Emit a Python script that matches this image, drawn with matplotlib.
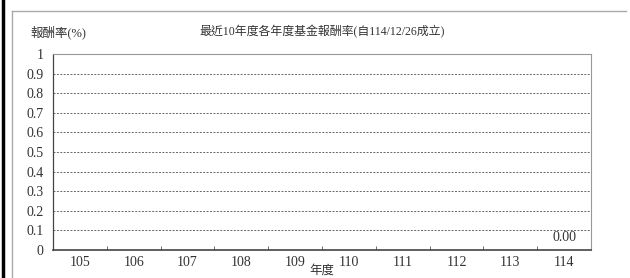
import matplotlib.pyplot as plt
from matplotlib.lines import Line2D

# data
years = ['105', '106', '107', '108', '109', '110', '111', '112', '113', '114']
returns = [None, None, None, None, None, None, None, None, None, 0.00]
y_ticks = [0, 0.1, 0.2, 0.3, 0.4, 0.5, 0.6, 0.7, 0.8, 0.9, 1]
y_tick_labels = ['0', '0.1', '0.2', '0.3', '0.4', '0.5', '0.6', '0.7', '0.8', '0.9', '1']

fonts = ['Liberation Serif', 'Noto Sans CJK TC']
plt.rcParams['font.family'] = fonts

fig = plt.figure(figsize=(6.3, 2.78), dpi=100)
W, H = 630, 278
ax = fig.add_axes([53 / W, 1 - 250 / H, (591 - 53) / W, (250 - 54) / H])

x = list(range(len(years)))
for xi, v in zip(x, returns):
    if v is None:
        continue
    ax.bar(xi, v, width=0.6, color='#4a6fa5')
    ax.annotate(f'{v:.2f}', (xi, v), xytext=(0, 4), textcoords='offset points',
                ha='center', va='bottom', fontsize=10, color='#333333')

ax.set_xlim(-0.5, len(years) - 0.5)
ax.set_ylim(0, 1)
ax.set_yticks(y_ticks)
ax.set_yticklabels(y_tick_labels)
ax.set_xticks(x)
ax.set_xticklabels(years)
ax.set_xticks([i + 0.5 for i in x[:-1]], minor=True)
ax.tick_params(axis='x', which='major', length=0, pad=4, labelsize=10, colors='#333333')
ax.tick_params(axis='x', which='minor', length=3, direction='in', color='#555555')
ax.tick_params(axis='y', length=0, pad=7, labelsize=10, colors='#333333')

for t in y_ticks[1:-1]:
    ax.axhline(t, color='#666666', linestyle=(0, (2, 1.5)), linewidth=0.7)

for side in ['top', 'right']:
    ax.spines[side].set_color('#999999')
    ax.spines[side].set_linewidth(0.8)
ax.spines['left'].set_color('#444444')
ax.spines['bottom'].set_color('#444444')
ax.spines['left'].set_linewidth(0.9)
ax.spines['bottom'].set_linewidth(1.2)

fig.text(30 / W, 1 - 32 / H, '報酬率(%)', fontsize=9, va='center', ha='left', color='#333333')
fig.text(322 / W, 1 - 32 / H, '最近10年度各年度基金報酬率(自114/12/26成立)', fontsize=8.6,
         va='center', ha='center', color='#333333')
fig.text(322 / W, 1 - 271 / H, '年度', fontsize=9, va='center', ha='center', color='#333333')

# page frame
fig.add_artist(Line2D([3 / W, 3 / W], [0, 1], color='black', linewidth=2.5))
fig.add_artist(Line2D([12 / W, 626 / W], [1 - 10.5 / H, 1 - 10.5 / H], color='#aaaaaa', linewidth=1))
fig.add_artist(Line2D([12 / W, 12 / W], [0, 1 - 10.5 / H], color='#aaaaaa', linewidth=1))

fig.savefig('out.png', dpi=100)
